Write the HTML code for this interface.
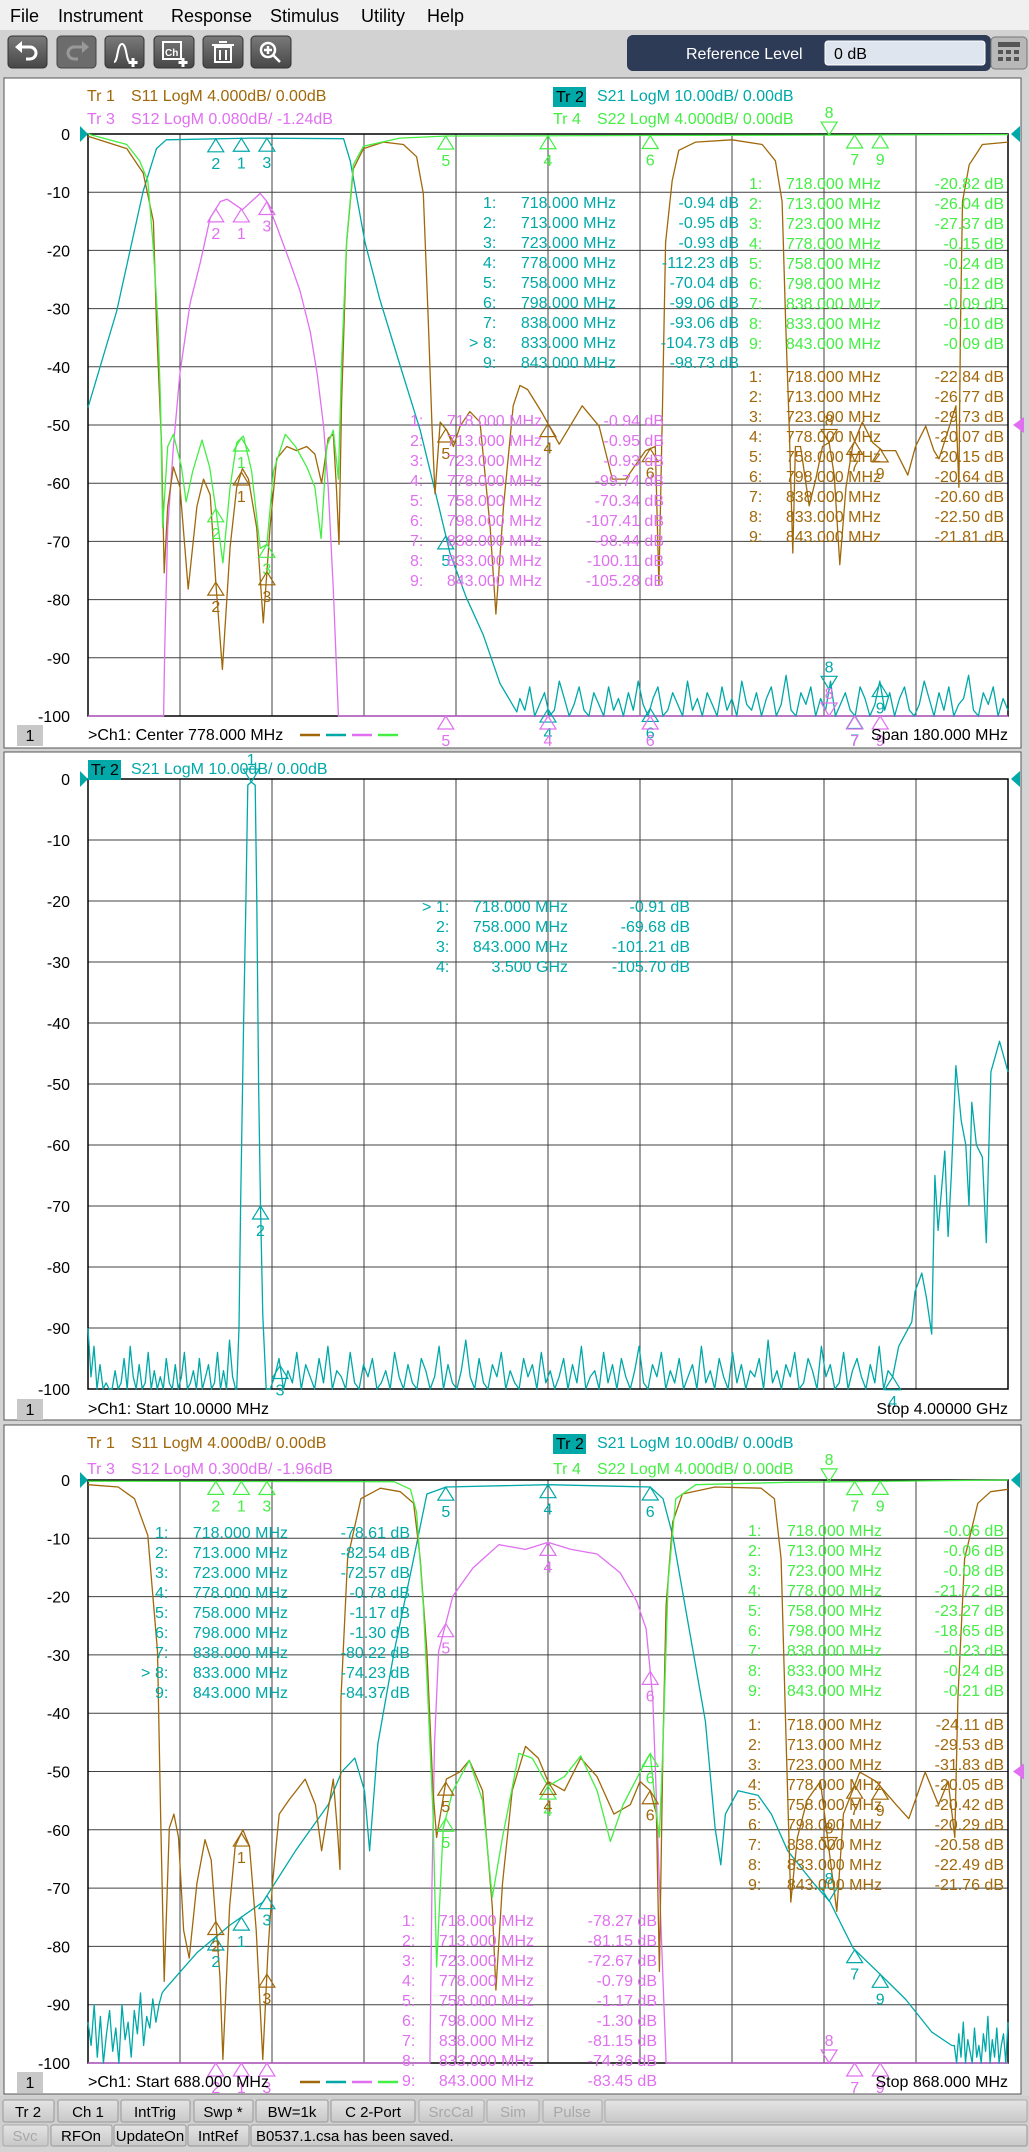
<!DOCTYPE html>
<html><head><meta charset="utf-8">
<style>
html,body{margin:0;padding:0;background:#d4d4d4;}
body{width:1029px;height:2147px;overflow:hidden;font-family:"Liberation Sans",sans-serif;}
svg text{font-family:"Liberation Sans",sans-serif;}
</style></head>
<body>
<svg id="scr" width="1029" height="2147" viewBox="0 0 1029 2147" xmlns="http://www.w3.org/2000/svg">
  <defs>
    <linearGradient id="btng" x1="0" y1="0" x2="0" y2="1"><stop offset="0" stop-color="#7a7a7a"/><stop offset="1" stop-color="#474747"/></linearGradient>
    <linearGradient id="sbg" x1="0" y1="0" x2="0" y2="1"><stop offset="0" stop-color="#e4e4e4"/><stop offset="1" stop-color="#c8c8c8"/></linearGradient>
  </defs>
  <!-- menu bar -->
  <rect x="0" y="0" width="1029" height="30" fill="#f0f0f0"/>
  <g font-size="18" fill="#000">
    <text x="10" y="22">File</text>
    <text x="58" y="22">Instrument</text>
    <text x="171" y="22">Response</text>
    <text x="270" y="22">Stimulus</text>
    <text x="361" y="22">Utility</text>
    <text x="427" y="22">Help</text>
  </g>
  <!-- toolbar -->
  <rect x="0" y="30" width="1029" height="48" fill="#d2d2d2"/>
  <g><rect x="8" y="36" width="39" height="32" rx="4" fill="url(#btng)" stroke="#333"/><path d="M20 47 h10 a6 6 0 0 1 0 12 h-4" stroke="#fff" stroke-width="3" fill="none"/><path d="M15 47 l7 -6 v12z" fill="#fff"/></g>
  <g><rect x="57" y="36" width="39" height="32" rx="4" fill="#6c6c6c" stroke="#444"/><path d="M84 47 h-10 a6 6 0 0 0 0 12 h4" stroke="#999" stroke-width="3" fill="none"/><path d="M89 47 l-7 -6 v12z" fill="#999"/></g>
  <g><rect x="105" y="36" width="39" height="32" rx="4" fill="url(#btng)" stroke="#333"/><path d="M114 62 c4 0 3 -18 8 -18 c5 0 4 18 8 18" stroke="#fff" stroke-width="2" fill="none"/><path d="M133 58 v9 M128.5 62.5 h9" stroke="#fff" stroke-width="3"/></g>
  <g><rect x="154" y="36" width="40" height="32" rx="4" fill="url(#btng)" stroke="#333"/><rect x="163" y="42" width="18" height="17" fill="none" stroke="#fff" stroke-width="2"/><text x="165" y="56" font-size="10" fill="#fff" font-weight="bold">Ch</text><path d="M183 58 v9 M178.5 62.5 h9" stroke="#fff" stroke-width="3"/></g>
  <g><rect x="203" y="36" width="40" height="32" rx="4" fill="url(#btng)" stroke="#333"/><rect x="215" y="47" width="16" height="15" fill="none" stroke="#fff" stroke-width="2"/><path d="M212 45 h22 M219 42 h8 M220 50 v10 M226 50 v10" stroke="#fff" stroke-width="2"/></g>
  <g><rect x="251" y="36" width="40" height="32" rx="4" fill="url(#btng)" stroke="#333"/><circle cx="268" cy="50" r="7" fill="none" stroke="#fff" stroke-width="2.5"/><path d="M264 50 h8 M268 46 v8 M273 55 l7 7" stroke="#fff" stroke-width="2.5"/></g>
  <rect x="627" y="35" width="364" height="36" rx="6" fill="#2e3b57"/>
  <text x="686" y="59" font-size="16" fill="#fff">Reference Level</text>
  <rect x="825" y="41" width="160" height="24" rx="3" fill="#dfe5ee" stroke="#fff"/>
  <text x="834" y="59" font-size="16" fill="#000">0 dB</text>
  <g><rect x="991" y="37" width="36" height="32" rx="4" fill="#b8b8b8" stroke="#777"/><rect x="998" y="42" width="22" height="5" fill="#555"/><rect x="998" y="50" width="5" height="4" fill="#555"/><rect x="1006" y="50" width="5" height="4" fill="#555"/><rect x="1014" y="50" width="5" height="4" fill="#555"/><rect x="998" y="57" width="5" height="4" fill="#555"/><rect x="1006" y="57" width="5" height="4" fill="#555"/><rect x="1014" y="57" width="5" height="4" fill="#555"/></g>

  <!-- panels -->
  <rect x="4" y="78" width="1017" height="670" fill="#fff" stroke="#555"/>
  <rect x="4" y="752" width="1017" height="668" fill="#fff" stroke="#555"/>
  <rect x="4" y="1425" width="1017" height="669" fill="#fff" stroke="#555"/>
  <g id="plots"></g>

  <!-- status bars -->
  <rect x="0" y="2096" width="1029" height="51" fill="#cfcfcf"/>
  <g font-size="15" text-anchor="middle">
    <g><rect x="3" y="2100" width="51" height="22" rx="2" fill="url(#sbg)" stroke="#999"/><text x="28" y="2117">Tr 2</text></g>
    <g><rect x="58" y="2100" width="60" height="22" rx="2" fill="url(#sbg)" stroke="#999"/><text x="88" y="2117">Ch 1</text></g>
    <g><rect x="121" y="2100" width="69" height="22" rx="2" fill="url(#sbg)" stroke="#999"/><text x="155" y="2117">IntTrig</text></g>
    <g><rect x="194" y="2100" width="59" height="22" rx="2" fill="url(#sbg)" stroke="#999"/><text x="223" y="2117">Swp *</text></g>
    <g><rect x="256" y="2100" width="72" height="22" rx="2" fill="url(#sbg)" stroke="#999"/><text x="292" y="2117">BW=1k</text></g>
    <g><rect x="331" y="2100" width="84" height="22" rx="2" fill="url(#sbg)" stroke="#999"/><text x="373" y="2117">C  2-Port</text></g>
    <g><rect x="419" y="2100" width="65" height="22" rx="2" fill="url(#sbg)" stroke="#aaa"/><text x="451" y="2117" fill="#a8a8a8">SrcCal</text></g>
    <g><rect x="487" y="2100" width="52" height="22" rx="2" fill="url(#sbg)" stroke="#aaa"/><text x="513" y="2117" fill="#a8a8a8">Sim</text></g>
    <g><rect x="543" y="2100" width="59" height="22" rx="2" fill="url(#sbg)" stroke="#aaa"/><text x="572" y="2117" fill="#a8a8a8">Pulse</text></g>
    <rect x="605" y="2100" width="422" height="22" rx="2" fill="url(#sbg)" stroke="#aaa"/>
    <g><rect x="3" y="2125" width="45" height="21" rx="2" fill="url(#sbg)" stroke="#aaa"/><text x="25" y="2141" fill="#a8a8a8">Svc</text></g>
    <g><rect x="51" y="2125" width="61" height="21" rx="2" fill="url(#sbg)" stroke="#999"/><text x="81" y="2141">RFOn</text></g>
    <g><rect x="114" y="2125" width="72" height="21" rx="2" fill="url(#sbg)" stroke="#999"/><text x="150" y="2141">UpdateOn</text></g>
    <g><rect x="188" y="2125" width="61" height="21" rx="2" fill="url(#sbg)" stroke="#999"/><text x="218" y="2141">IntRef</text></g>
  </g>
  <rect x="251" y="2125" width="776" height="21" rx="2" fill="url(#sbg)" stroke="#999"/>
  <text x="256" y="2141" font-size="15">B0537.1.csa has been saved.</text>
</svg>
<script>
// ---------- data ----------
const C = {s11:'#a0680a', s21:'#00a8a8', s12:'#e070f0', s22:'#44ee44'};
const yTicks = [0,-10,-20,-30,-40,-50,-60,-70,-80,-90,-100];
const markerFreqs = [718,713,723,778,758,798,838,833,843];
const p2MarkerFreqs = [718,758,843,3500];

// Panel 1 (688..868 MHz)
const p1S11F = [688,695.6,698.8,700.8,701.4,702.4,702.9,703.6,704.7,706,707.6,709.3,710.6,711.9,713,714.3,715.8,717.1,718.2,719.4,721,722.3,723.6,724.9,726.9,728.8,730.8,732.4,733.7,735,736,736.6,737.1,737.6,738.6,739.9,741.9,745.8,749.7,752.3,753.6,754.6,755.3,755.9,756.9,758.2,759.5,760.8,762.7,764.7,766.7,767.8,769.3,771.2,772.5,774,776.9,780.2,784.7,788,790.6,793.2,797.1,799,799.7,800.4,801,802.3,803.6,806.9,814,819.9,822.5,823.8,824.5,825.2,825.9,826.4,827.4,829.1,830.4,831.7,833,834,835.1,836.3,837.6,839.5,841.5,843.4,846,848.4,849.9,851.9,853.5,854.5,855.8,857.8,858.4,858.7,859.1,860.4,863,868];
const p1S11D = [-0.4,-2.5,-6.7,-15,-32.6,-53.7,-75.4,-64,-57.2,-60.7,-78.2,-64,-59.3,-62,-77,-92,-71,-60.7,-57.5,-59.3,-67.7,-84,-67.7,-55.8,-53.7,-54.4,-53.7,-55,-60,-52.3,-51.6,-60.7,-70.5,-46.7,-18.6,-6,-2.5,-1.4,-1.8,-3.9,-10.2,-32.6,-50.2,-61.8,-49.5,-50.9,-53.7,-50.2,-47.7,-49.5,-67.7,-82.5,-64,-46.7,-43.2,-43.9,-48,-53.3,-46.7,-50.2,-59.3,-59.3,-54.4,-53.7,-77.5,-46.7,-18.6,-8,-2.8,-1.4,-1,-1.8,-4.6,-11.6,-32.6,-50.2,-72,-53.7,-53.7,-63.9,-59.3,-53.7,-53,-58.6,-74,-60.7,-53.7,-49.5,-53,-54.4,-54.4,-58.6,-53.7,-50.2,-54.4,-55.8,-52.3,-46.7,-60.7,-32.6,-11.6,-5.3,-1.8,-1.4];
const p1S21F = [688,693.6,698.8,701.4,703.3,720,738,739.3,742.2,745.1,749,753,756.9,758.8,762,765.3,768.6,771.9];
const p1S21D = [-47,-30.5,-9.8,-2.5,-1,-0.7,-0.8,-4.6,-18.6,-28.4,-39.6,-50.9,-65,-72,-79.6,-86,-94.4,-99.3];
const p1NoiseStart = 772.5, p1NoiseStop = 868;
const p1Noise = [-97,-99,-95,-100,-98,-96,-100,-99,-94,-97,-100,-98,-95,-99,-100,-96,-98,-100,-95,-99,-97,-100,-96,-99,-94,-98,-100,-97,-95,-100,-99,-96,-98,-100,-94,-99,-97,-100,-96,-98,-100,-95,-99,-97,-100,-94,-98,-99,-96,-100,-97,-95,-100,-98,-93,-99,-100,-96,-98,-95,-100,-97,-99,-94,-100,-98,-96,-99,-100,-95,-97,-100,-98,-94,-99,-96,-100,-97,-95,-99,-100,-98,-94,-97,-100,-96,-99,-95,-100,-98,-97,-93,-99,-100,-96,-98,-95,-100,-97,-99];
const p1S22F = [688,695.6,698.1,699.7,700.7,701.7,702.2,702.6,703.6,704.7,706.3,707.2,708.5,710.3,711.8,713.1,714.4,715.8,717.1,718.4,720,721.7,723,724.3,726.6,728.6,730.8,732.4,733.6,734.7,736,737,737.6,738.6,739.9,741.9,749,758.2,868];
const p1S22D = [0,-1.8,-4.6,-8,-18.6,-32.6,-46.7,-67.7,-53.7,-51.6,-57.2,-63.2,-57.9,-52.6,-57.2,-65,-73.7,-60.7,-53,-51.9,-57.9,-71.2,-70.5,-57.9,-51.6,-53.7,-57.2,-60.7,-69.5,-53.7,-50.9,-59.3,-39.6,-18.6,-5.3,-2.1,-0.7,-0.35,-0.1];
const p1S12F = [688,702.8,703,703.6,704.7,706,708,710,711.9,713.9,715.2,718.2,721.7,723,724.9,727.5,729.5,731.5,732.8,734.1,735,736,737,868];
const p1S12D = [-100,-100,-88.8,-67.7,-53.7,-41,-29,-22,-14.4,-11.6,-11.2,-13,-10.2,-11.6,-15.8,-22,-27,-34,-41,-50.2,-60.7,-78.2,-100,-100];

// Panel 2 (10 MHz .. 4 GHz)
const p2NoiseAStart = 10, p2NoiseAStop = 650;
const p2NoiseA = [-90,-98,-93,-100,-96,-100,-99,-100,-100,-97,-100,-99,-95,-100,-93,-98,-100,-96,-100,-99,-94,-100,-97,-100,-98,-100,-95,-99,-100,-96,-100,-98,-94,-100,-99,-97,-100,-95,-100,-98,-96,-100,-99,-94,-100,-97,-100,-92,-98,-100];
const p2PassF = [655,665,672,685,695,703,718,735,742,750,758,768,783];
const p2PassD = [-100,-90,-70,-40,-20,-1,-0.5,-1,-20,-50,-70,-88,-100];
const p2NoiseBStart = 800, p2NoiseBStop = 3480;
const p2NoiseB = [-100,-98,-95,-100,-97,-99,-94,-100,-96,-98,-100,-95,-99,-93,-100,-97,-98,-100,-94,-99,-100,-96,-98,-95,-100,-99,-97,-100,-94,-98,-100,-96,-99,-100,-95,-97,-100,-98,-93,-100,-96,-99,-100,-97,-92,-98,-100,-95,-99,-100,-96,-98,-94,-100,-97,-99,-100,-95,-98,-96,-100,-94,-99,-97,-100,-98,-95,-100,-96,-99,-93,-100,-98,-97,-100,-94,-99,-96,-100,-95,-98,-100,-97,-93,-99,-100,-96,-98,-94,-100,-97,-99,-95,-100,-98,-96,-100,-93,-99,-97,-100,-95,-98,-100,-94,-99,-96,-100,-97,-98,-95,-100,-92,-99,-97,-100,-96,-98,-94,-100,-99,-95,-97,-100,-93,-98,-96,-100,-99,-94,-100,-97,-95,-98,-100,-96,-99,-93,-100,-97];
const p2HighF = [3500,3526,3583,3597,3626,3646,3669,3683,3697,3726,3740,3754,3774,3797,3817,3831,3843,3863,3889,3906,3926,3963,4000];
const p2HighD = [-98,-93,-89,-84,-81,-85,-91,-65,-74,-61,-75,-65,-47,-56,-60,-70,-53,-60,-62,-76,-48,-43,-48];

// Panel 3 (688..868 MHz)
const p3S11F = [688,693.9,697.1,699.7,701.6,702.2,702.9,703.9,704.8,705.7,706.7,707.8,709.3,710.9,712.1,713.8,714.4,715.7,716.8,718.3,719.6,720.9,722.2,723.2,724.1,725.4,727.3,730.5,732.5,733.7,735,736,736.9,737.3,737.5,738.8,741.4,745.2,749.1,751.7,753,754.3,755.5,756.2,758.1,760.7,762.6,765.2,767.1,767.8,769.1,771,773.6,776.1,778,781.2,784.4,787.6,790.9,794.1,796,798,799.2,799.8,800.5,801.1,802.4,804.3,810.7,819.7,822.3,823.6,824.6,825.5,826.8,828.7,831.3,834.5,835.8,839,842.2,846.1,848.6,851.8,854.4,856.3,857.6,858.2,859.5,862.1,864.6,868];
const p3S11D = [-0.8,-1.2,-3.2,-9.5,-29.4,-57.3,-86,-59.7,-57.3,-61.3,-77.2,-82,-69.2,-61.7,-65.2,-85.1,-99.4,-73.2,-62.8,-60,-62.8,-77.2,-99.4,-81.1,-69.2,-57.3,-54.9,-51.3,-55.7,-63.6,-56.5,-51.3,-61.3,-66.8,-37.4,-13.5,-3.2,-1.4,-2,-4,-13.5,-29.4,-53.3,-61.3,-51.3,-50.1,-48.1,-53.3,-73.2,-87.5,-69.2,-53.3,-45.7,-47.7,-51.7,-53.3,-47.7,-50.9,-57.3,-55.7,-51.7,-53.3,-57.3,-84.3,-45.3,-21.5,-7.2,-2.4,-1.2,-1.4,-3.2,-13.5,-45.3,-72.4,-61.3,-54.9,-51.7,-74,-57.3,-50.1,-51.7,-55.7,-58.1,-50.1,-55.7,-51.7,-61.3,-37.4,-13.5,-4,-2,-1.6];
const p3NoiseAStart = 688, p3NoiseAStop = 702.5;
const p3NoiseA = [-93,-97,-90,-99,-92,-100,-95,-91,-98,-94,-100,-90,-96,-93,-99,-91,-95,-88,-97,-92,-94,-89,-93,-90,-88];
const p3S21F = [702.9,709.3,715.7,722.2,728.6,735,737.6,740.2,742.1,743.1,744.7,747.9,751.7,754.3,758.1,778,798,800.5,802.4,805.6,808.8,810.7,811.8,812.7,815.2,819.1,821.7,824.9,830,833.2,837.7,842.9,848,853.1,857];
const p3S21D = [-87.5,-81.1,-76.4,-72.4,-63.6,-55.7,-50.1,-47.7,-53.3,-63.6,-45.3,-29.4,-13.5,-2.4,-1.2,-0.8,-1.2,-3.2,-9.5,-25.5,-41.4,-59.7,-66,-57.3,-53.3,-54.1,-57.3,-63.6,-69.2,-72.4,-80.3,-84.7,-89.1,-94.7,-97];
const p3NoiseBStart = 857.5, p3NoiseBStop = 868;
const p3NoiseB = [-97,-100,-95,-99,-93,-100,-96,-98,-100,-94,-99,-97,-100,-95,-98,-92,-100,-96,-99,-94,-100,-97,-95,-100,-93];
const p3S22F = [688,747.9,751.1,752.3,753.6,754.5,755.5,756.2,757.5,759.4,762.6,765.2,767.1,769.1,772.3,774.9,778,781.2,784.4,787.6,790.2,792.7,796,798,799.2,799.8,800.5,801.5,803,806.9,824.8,868];
const p3S22D = [-0.2,-0.3,-1.6,-5.6,-21.5,-37.4,-57.3,-83.5,-59.7,-53.3,-48.1,-55,-71.6,-61.3,-46.9,-47.7,-52.5,-50.9,-47.3,-53.3,-62,-55.7,-50.1,-46.9,-57.3,-61.3,-45.3,-17.5,-3.2,-0.8,-0.4,0];
const p3S12F = [688,754.9,755.3,755.8,756.6,759.4,763.3,768.4,773.6,778,782.5,787.6,792.1,795.3,797.2,798.5,799.8,801.1,868];
const p3S12D = [-100,-100,-69.2,-45.3,-29.4,-19.9,-15.1,-11.1,-11.9,-10.7,-11.9,-12.7,-15.9,-20.7,-25.5,-37.4,-69.2,-100,-100];

// Marker tables
const freqText = ['718.000','713.000','723.000','778.000','758.000','798.000','838.000','833.000','843.000'];
const p1S21Tab = ['-0.94','-0.95','-0.93','-112.23','-70.04','-99.06','-93.06','-104.73','-98.73'];
const p1S22Tab = ['-20.82','-26.04','-27.37','-0.15','-0.24','-0.12','-0.09','-0.10','-0.09'];
const p1S11Tab = ['-22.84','-26.77','-29.73','-20.07','-20.15','-20.64','-20.60','-22.50','-21.81'];
const p1S12Tab = ['-0.94','-0.95','-0.93','-99.74','-70.34','-107.41','-98.44','-100.11','-105.28'];
const p2FreqTab = ['718.000  MHz','758.000  MHz','843.000  MHz','3.500  GHz'];
const p2S21Tab = ['-0.91','-69.68','-101.21','-105.70'];
const p3S21Tab = ['-78.61','-82.54','-72.57','-0.78','-1.17','-1.30','-80.22','-74.23','-84.37'];
const p3S22Tab = ['-0.06','-0.06','-0.08','-21.72','-23.27','-18.65','-0.23','-0.24','-0.21'];
const p3S11Tab = ['-24.11','-29.53','-31.83','-20.05','-20.42','-20.29','-20.58','-22.49','-21.76'];
const p3S12Tab = ['-78.27','-81.15','-72.67','-0.79','-1.17','-1.30','-81.15','-74.36','-83.45'];

// ---------- rendering ----------
const NS = 'http://www.w3.org/2000/svg';
const root = document.getElementById('plots');
function mk(tag, attrs, parent){
  const e = document.createElementNS(NS, tag);
  for (const k in attrs) e.setAttribute(k, attrs[k]);
  (parent || root).appendChild(e);
  return e;
}
function spread(start, stop, vals){
  const f = [];
  for (let i = 0; i < vals.length; i++) f.push(start + (stop - start) * i / (vals.length - 1));
  return f;
}
function joinT(parts){ let F=[],D=[]; parts.forEach(p=>{F=F.concat(p[0]);D=D.concat(p[1]);}); return [F,D]; }

const panels = [
  {x0:88,x1:1008,y0:134,y1:716,fmin:688,fmax:868},
  {x0:88,x1:1008,y0:779,y1:1389,fmin:10,fmax:4000},
  {x0:88,x1:1008,y0:1480,y1:2063,fmin:688,fmax:868}
];
function xs(p,f){ return p.x0 + (f - p.fmin) / (p.fmax - p.fmin) * (p.x1 - p.x0); }
function ys(p,d){ const c = Math.max(-100, Math.min(0, d)); return p.y0 + (-c / 100) * (p.y1 - p.y0); }
function interp(F,D,f){
  for (let i = 1; i < F.length; i++) if (f <= F[i]) { const t = (f - F[i-1]) / (F[i] - F[i-1] || 1); return D[i-1] + t * (D[i] - D[i-1]); }
  return D[D.length-1];
}

function drawGrid(p, idx){
  const g = mk('g', {});
  
  
  for (let i = 1; i < 10; i++) {
    const x = p.x0 + i * (p.x1 - p.x0) / 10;
    const l = mk('line', {x1:x, y1:p.y0, x2:x, y2:p.y1, stroke:'#404040', 'stroke-width':1}, g);
    
    
  }
  yTicks.forEach(v => {
    const y = ys(p, v);
    const l = mk('line', {x1:p.x0, y1:y, x2:p.x1, y2:y, stroke:'#404040', 'stroke-width':1}, g);
    
    
    const t = mk('text', {x:70, y:y + 6, 'font-size':16, 'text-anchor':'end', fill:'#000'}, g);
    t.textContent = String(v);
    
    
  });
  const fr = mk('rect', {x:p.x0, y:p.y0, width:p.x1 - p.x0, height:p.y1 - p.y0, fill:'none', stroke:'#000', 'stroke-width':1.5}, g);
  
  
  const ra = mk('path', {d:`M${p.x0-8} ${p.y0-8} L${p.x0} ${p.y0} L${p.x0-8} ${p.y0+8}Z`, fill:C.s21}, g);
  
  
  const rb = mk('path', {d:`M${p.x1+12} ${p.y0-8} L${p.x1+3} ${p.y0} L${p.x1+12} ${p.y0+8}Z`, fill:C.s21}, g);
  
  
}

function drawTrace(p, F, D, color, name){
  let d = '';
  const n = Math.min(F.length, D.length);
  for (let i = 0; i < n; i++) d += (i ? 'L' : 'M') + xs(p, F[i]).toFixed(1) + ' ' + ys(p, D[i]).toFixed(1);
  const e = mk('path', {d:d, fill:'none', stroke:color, 'stroke-width':1.3, 'stroke-linejoin':'round'});
  
  
}

function drawMarker(p, F, D, f, label, color, inverted){
  const x = xs(p, f), y = ys(p, interp(F, D, f));
  const g = mk('g', {});
  
  
  const tri = inverted ? `M${x} ${y} L${x-8} ${y-13} L${x+8} ${y-13}Z` : `M${x} ${y} L${x-8} ${y+13} L${x+8} ${y+13}Z`;
  mk('path', {d:tri, fill:'none', stroke:color, 'stroke-width':1.2}, g);
  const t = mk('text', {x:x, y:inverted ? y - 17 : y + 30, 'font-size':16, 'text-anchor':'middle', fill:color}, g);
  t.textContent = label;
}

function drawTable(rows, idxX, freqEndX, dbEndX, y0, color, freqs, unit, active, name){
  const g = mk('g', {'font-size':16, fill:color});
  
  
  rows.forEach((v, i) => {
    const y = y0 + i * 20 + 6;
    const a = mk('text', {x:idxX, y:y}, g);
    a.textContent = (i + 1) + ':';
    if (i === active) { const s = mk('text', {x:idxX - 14, y:y}, g); s.textContent = '>'; }
    const b = mk('text', {x:freqEndX, y:y, 'text-anchor':'end'}, g);
    b.textContent = freqs[i] + (unit ? '  ' + unit : '');
    const c = mk('text', {x:dbEndX, y:y, 'text-anchor':'end'}, g);
    c.textContent = v + ' dB';
  });
}

function txt(x, y, s, color, name, size, anchor){
  const t = mk('text', {x:x, y:y, 'font-size':size || 16, fill:color, 'text-anchor':anchor || 'start'});
  t.textContent = s;
  
  
  return t;
}
function trBox(x, y, name){
  const r = mk('rect', {x:x, y:y - 14, width:33, height:20, fill:C.s21});
  
  
  txt(x + 3, y + 1, 'Tr 2', '#000', name + '-label');
}
function chBox(y, name){
  const r = mk('rect', {x:17, y:y - 15, width:26, height:21, fill:'#c8c8c8'});
  
  
  txt(30, y + 1, '1', '#000', name + '-label', 16, 'middle');
}
function legendDashes(y){
  [C.s11, C.s21, C.s12, C.s22].forEach((c, i) => {
    const l = mk('line', {x1:300 + i * 26, y1:y, x2:320 + i * 26, y2:y, stroke:c, 'stroke-width':2.5});
    
    
  });
}

// ---- panel 1 ----
{
  const p = panels[0];
  drawGrid(p, 1);
  const s21 = joinT([[p1S21F, p1S21D], [spread(p1NoiseStart, p1NoiseStop, p1Noise), p1Noise]]);
  drawTrace(p, p1S12F, p1S12D, C.s12, 's12-trace-p1');
  drawTrace(p, s21[0], s21[1], C.s21, 's21-trace-p1');
  drawTrace(p, p1S11F, p1S11D, C.s11, 's11-trace-p1');
  drawTrace(p, p1S22F, p1S22D, C.s22, 's22-trace-p1');
  const rm = mk('path', {d:`M${p.x1+16} ${ys(p,-50)-8} L${p.x1+5} ${ys(p,-50)} L${p.x1+16} ${ys(p,-50)+8}Z`, fill:C.s12});
  
  
  const sets = [[s21[0], s21[1], C.s21], [p1S22F, p1S22D, C.s22], [p1S11F, p1S11D, C.s11], [p1S12F, p1S12D, C.s12]];
  sets.forEach(s => markerFreqs.forEach((f, i) => drawMarker(p, s[0], s[1], f, String(i + 1), s[2], i === 7)));
  drawTable(p1S21Tab, 483, 616, 739, 202, C.s21, freqText, 'MHz', 7, 's21-marker-table-p1');
  drawTable(p1S22Tab, 749, 881, 1004, 183, C.s22, freqText, 'MHz', -1, 's22-marker-table-p1');
  drawTable(p1S11Tab, 749, 881, 1004, 376, C.s11, freqText, 'MHz', -1, 's11-marker-table-p1');
  drawTable(p1S12Tab, 410, 542, 664, 420, C.s12, freqText, 'MHz', -1, 's12-marker-table-p1');
  txt(87, 101, 'Tr 1', C.s11, 'tr1-header-p1'); txt(131, 101, 'S11 LogM 4.000dB/  0.00dB', C.s11, 's11-format-p1');
  txt(87, 124, 'Tr 3', C.s12, 'tr3-header-p1'); txt(131, 124, 'S12 LogM 0.080dB/  -1.24dB', C.s12, 's12-format-p1');
  trBox(553, 101, 'tr2-header-p1'); txt(597, 101, 'S21 LogM 10.00dB/  0.00dB', C.s21, 's21-format-p1');
  txt(553, 124, 'Tr 4', C.s22, 'tr4-header-p1'); txt(597, 124, 'S22 LogM 4.000dB/  0.00dB', C.s22, 's22-format-p1');
  chBox(740, 'channel-indicator-p1');
  txt(88, 740, '>Ch1:  Center   778.000 MHz', '#000', 'center-frequency-label');
  legendDashes(735);
  txt(1008, 740, 'Span  180.000 MHz', '#000', 'span-label', 16, 'end');
}
// ---- panel 2 ----
{
  const p = panels[1];
  drawGrid(p, 2);
  const tr = joinT([[spread(p2NoiseAStart, p2NoiseAStop, p2NoiseA), p2NoiseA], [p2PassF, p2PassD], [spread(p2NoiseBStart, p2NoiseBStop, p2NoiseB), p2NoiseB], [p2HighF, p2HighD]]);
  drawTrace(p, tr[0], tr[1], C.s21, 's21-wideband-trace');
  p2MarkerFreqs.forEach((f, i) => drawMarker(p, tr[0], tr[1], f, String(i + 1), C.s21, i === 0));
  drawTable(p2S21Tab, 436, 568, 690, 906, C.s21, p2FreqTab, '', 0, 's21-marker-table-p2');
  trBox(88, 774, 'tr2-header-p2'); txt(131, 774, 'S21 LogM 10.00dB/  0.00dB', C.s21, 's21-format-p2');
  chBox(1414, 'channel-indicator-p2');
  txt(88, 1414, '>Ch1:  Start   10.0000 MHz', '#000', 'start-frequency-label-p2');
  txt(1008, 1414, 'Stop  4.00000 GHz', '#000', 'stop-frequency-label-p2', 16, 'end');
}
// ---- panel 3 ----
{
  const p = panels[2];
  drawGrid(p, 3);
  const s21 = joinT([[spread(p3NoiseAStart, p3NoiseAStop, p3NoiseA), p3NoiseA], [p3S21F, p3S21D], [spread(p3NoiseBStart, p3NoiseBStop, p3NoiseB), p3NoiseB]]);
  drawTrace(p, p3S12F, p3S12D, C.s12, 's12-trace-p3');
  drawTrace(p, s21[0], s21[1], C.s21, 's21-trace-p3');
  drawTrace(p, p3S11F, p3S11D, C.s11, 's11-trace-p3');
  drawTrace(p, p3S22F, p3S22D, C.s22, 's22-trace-p3');
  const rm = mk('path', {d:`M${p.x1+16} ${ys(p,-50)-8} L${p.x1+5} ${ys(p,-50)} L${p.x1+16} ${ys(p,-50)+8}Z`, fill:C.s12});
  
  
  const sets = [[s21[0], s21[1], C.s21], [p3S22F, p3S22D, C.s22], [p3S11F, p3S11D, C.s11], [p3S12F, p3S12D, C.s12]];
  sets.forEach(s => markerFreqs.forEach((f, i) => drawMarker(p, s[0], s[1], f, String(i + 1), s[2], i === 7)));
  drawTable(p3S21Tab, 155, 288, 410, 1532, C.s21, freqText, 'MHz', 7, 's21-marker-table-p3');
  drawTable(p3S22Tab, 748, 882, 1004, 1530, C.s22, freqText, 'MHz', -1, 's22-marker-table-p3');
  drawTable(p3S11Tab, 748, 882, 1004, 1724, C.s11, freqText, 'MHz', -1, 's11-marker-table-p3');
  drawTable(p3S12Tab, 402, 534, 657, 1920, C.s12, freqText, 'MHz', -1, 's12-marker-table-p3');
  txt(87, 1448, 'Tr 1', C.s11, 'tr1-header-p3'); txt(131, 1448, 'S11 LogM 4.000dB/  0.00dB', C.s11, 's11-format-p3');
  txt(87, 1474, 'Tr 3', C.s12, 'tr3-header-p3'); txt(131, 1474, 'S12 LogM 0.300dB/  -1.96dB', C.s12, 's12-format-p3');
  trBox(553, 1448, 'tr2-header-p3'); txt(597, 1448, 'S21 LogM 10.00dB/  0.00dB', C.s21, 's21-format-p3');
  txt(553, 1474, 'Tr 4', C.s22, 'tr4-header-p3'); txt(597, 1474, 'S22 LogM 4.000dB/  0.00dB', C.s22, 's22-format-p3');
  chBox(2087, 'channel-indicator-p3');
  txt(88, 2087, '>Ch1:  Start   688.000 MHz', '#000', 'start-frequency-label-p3');
  legendDashes(2082);
  txt(1008, 2087, 'Stop  868.000 MHz', '#000', 'stop-frequency-label-p3', 16, 'end');
}
</script>
</body></html>
